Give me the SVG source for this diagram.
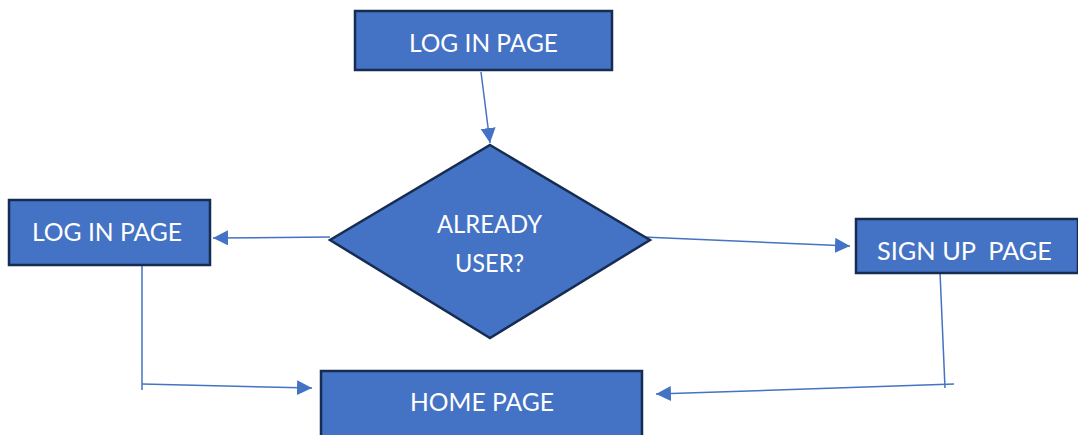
<svg xmlns="http://www.w3.org/2000/svg" width="1078" height="435" viewBox="0 0 1078 435">
  <defs>
    <style>
      .box { fill: #4472C4; stroke: #172C51; stroke-width: 2.5; }
      .lbl { fill: #FFFFFF; font-family: Lato, "Open Sans", sans-serif; font-size: 25px; text-anchor: middle; white-space: pre; }
      .link { fill: none; stroke: #4472C4; stroke-width: 1.5; }
    </style>
    <marker id="arrow" markerUnits="userSpaceOnUse" markerWidth="16" markerHeight="16" refX="15" refY="7.5" orient="auto">
      <path d="M0,0 L15,7.5 L0,15 Z" fill="#4472C4"/>
    </marker>
  </defs>

  <rect width="1078" height="435" fill="#FFFFFF"/>

  <!-- connectors -->
  <g id="connectors">
    <line class="link" x1="481" y1="72" x2="490" y2="143" marker-end="url(#arrow)"/>
    <line class="link" x1="330" y1="237" x2="213" y2="238" marker-end="url(#arrow)"/>
    <line class="link" x1="643" y1="237" x2="850" y2="246" marker-end="url(#arrow)"/>
    <polyline class="link" points="142,265 142,390"/>
    <line class="link" x1="142" y1="384" x2="312" y2="388" marker-end="url(#arrow)"/>
    <line class="link" x1="940" y1="272" x2="945" y2="388"/>
    <line class="link" x1="954" y1="384" x2="656" y2="394" marker-end="url(#arrow)"/>
  </g>

  <g id="login-top">
    <rect class="box" x="355" y="11" width="257" height="59"/>
    <text class="lbl" x="483.5" y="52" textLength="149" lengthAdjust="spacingAndGlyphs">LOG IN PAGE</text>
  </g>

  <g id="already-user">
    <polygon class="box" points="490,145 650,240 490,338 330,240"/>
    <text class="lbl" x="489.5" y="233" textLength="105" lengthAdjust="spacingAndGlyphs">ALREADY</text>
    <text class="lbl" x="489.5" y="272" textLength="69" lengthAdjust="spacingAndGlyphs">USER?</text>
  </g>

  <g id="login-left">
    <rect class="box" x="9" y="200" width="201" height="65"/>
    <text class="lbl" x="107" y="241" textLength="150" lengthAdjust="spacingAndGlyphs">LOG IN PAGE</text>
  </g>

  <g id="signup">
    <rect class="box" x="856" y="219" width="222" height="54"/>
    <text class="lbl" x="964.5" y="260" textLength="175" lengthAdjust="spacingAndGlyphs">SIGN UP  PAGE</text>
  </g>

  <g id="home">
    <rect class="box" x="321" y="371" width="321" height="70"/>
    <text class="lbl" x="482" y="411" textLength="144" lengthAdjust="spacingAndGlyphs">HOME PAGE</text>
  </g>
</svg>
